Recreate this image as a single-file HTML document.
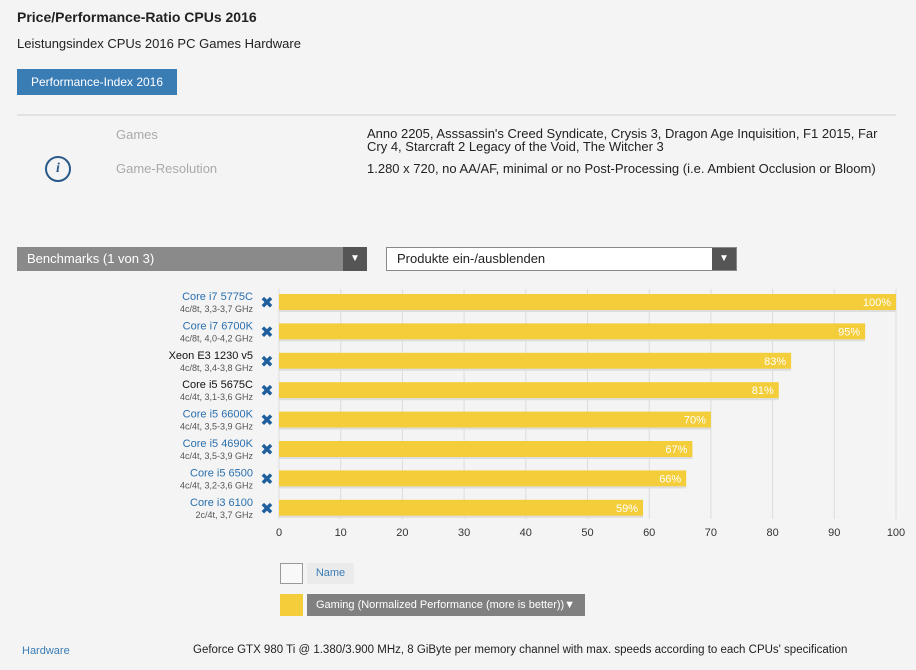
<!DOCTYPE html>
<html><head><meta charset="utf-8"><style>
body{margin:0;width:916px;height:670px;background:#f4f4f4;font-family:"Liberation Sans",sans-serif;position:relative;overflow:hidden;color:#222}
.a{position:absolute;white-space:nowrap}
</style></head><body>
<div class="a" style="left:17px;top:9px;font-size:14px;font-weight:bold">Price/Performance-Ratio CPUs 2016</div>
<div class="a" style="left:17px;top:36px;font-size:13px">Leistungsindex CPUs 2016 PC Games Hardware</div>
<div class="a" style="left:17px;top:69px;width:160px;height:26px;background:#3a7db5;color:#fff;font-size:12px;line-height:26px;text-align:center">Performance-Index 2016</div>
<div class="a" style="left:17px;top:114px;width:879px;height:2px;background:#e2e2e2"></div>
<div class="a" style="left:45px;top:156px;width:26px;height:26px;border:2px solid #2a5a8a;border-radius:50%;box-sizing:border-box;color:#2a5a8a;font:italic bold 14px 'Liberation Serif',serif;text-align:center;line-height:22px">i</div>
<div class="a" style="left:116px;top:127px;font-size:13px;color:#aaa">Games</div>
<div class="a" style="left:367px;top:127px;font-size:13px;white-space:normal;width:520px;line-height:13px">Anno 2205, Asssassin's Creed Syndicate, Crysis 3, Dragon Age Inquisition, F1 2015, Far Cry 4, Starcraft 2 Legacy of the Void, The Witcher 3</div>
<div class="a" style="left:116px;top:161px;font-size:13px;color:#aaa">Game-Resolution</div>
<div class="a" style="left:367px;top:161px;font-size:13px">1.280 x 720, no AA/AF, minimal or no Post-Processing (i.e. Ambient Occlusion or Bloom)</div>
<div class="a" style="left:17px;top:247px;width:350px;height:24px;background:#8a8a8a;color:#fff;font-size:13px;line-height:24px;box-sizing:border-box;padding-left:10px">Benchmarks (1 von 3)<span style="position:absolute;right:0;top:0;width:24px;height:24px;background:#555;text-align:center;font-size:10px">▼</span></div>
<div class="a" style="left:386px;top:247px;width:351px;height:24px;background:#fff;border:1px solid #888;color:#222;font-size:13px;line-height:22px;box-sizing:border-box;padding-left:10px">Produkte ein-/ausblenden<span style="position:absolute;right:0;top:0;width:24px;height:22px;background:#555;color:#fff;text-align:center;font-size:10px">▼</span></div>
<svg class="a" style="left:0;top:0" width="916" height="670" id="chart"></svg>
<div class="a" style="left:280px;top:563px;width:23px;height:21px;border:1px solid #999;box-sizing:border-box;background:#f8f8f8"></div>
<div class="a" style="left:307px;top:563px;width:47px;height:21px;background:#ebebeb;color:#3a7db5;font-size:11px;line-height:21px;text-align:center">Name</div>
<div class="a" style="left:280px;top:594px;width:23px;height:22px;background:#f3cd3a"></div>
<div class="a" style="left:307px;top:594px;width:278px;height:22px;background:#808080;color:#fff;font-size:11px;line-height:22px;box-sizing:border-box;padding-left:9px">Gaming (Normalized Performance (more is better))<span style="position:absolute;right:10px">▼</span></div>
<div class="a" style="left:22px;top:645px;font-size:11px;color:#3a7db5">Hardware</div>
<div class="a" style="left:193px;top:644px;font-size:11.5px">Geforce GTX 980 Ti @ 1.380/3.900 MHz, 8 GiByte per memory channel with max. speeds according to each CPUs' specification</div>
<script>
const names=["Core i7 5775C","Core i7 6700K","Xeon E3 1230 v5","Core i5 5675C","Core i5 6600K","Core i5 4690K","Core i5 6500","Core i3 6100"];
const specs=["4c/8t, 3,3-3,7 GHz","4c/8t, 4,0-4,2 GHz","4c/8t, 3,4-3,8 GHz","4c/4t, 3,1-3,6 GHz","4c/4t, 3,5-3,9 GHz","4c/4t, 3,5-3,9 GHz","4c/4t, 3,2-3,6 GHz","2c/4t, 3,7 GHz"];
const nameColors=["#2a6fae","#2a6fae","#111","#111","#2a6fae","#2a6fae","#2a6fae","#2a6fae"];
const values=[100,95,83,81,70,67,66,59];
const ticks=[0,10,20,30,40,50,60,70,80,90,100];
const NS="http://www.w3.org/2000/svg",svg=document.getElementById('chart');
const x=v=>279+v*6.17, y=i=>302+i*29.4;
function mk(t,a,txt){const e=document.createElementNS(NS,t);for(const k in a)e.setAttribute(k,a[k]);if(txt!=null)e.textContent=txt;svg.appendChild(e);return e;}
ticks.forEach(t=>{
const g=mk('line',{x1:x(t),x2:x(t),y1:289,y2:519,stroke:'#dcdcdc','stroke-width':1});


const l=mk('text',{x:x(t),y:536,'text-anchor':'middle','font-size':11,fill:'#333','font-family':'Liberation Sans'},t);


});
values.forEach((v,i)=>{
const cy=y(i);
const b=mk('rect',{x:x(0),y:cy-8,width:x(v)-x(0),height:16,fill:'#f3cd3a'});


const s=mk('rect',{x:x(0),y:cy+8,width:x(v)-x(0),height:2,fill:'#ddd'});


const vl=mk('text',{x:x(v)-5,y:cy+4,'text-anchor':'end','font-size':11,fill:'#fff','font-family':'Liberation Sans'},v+'%');


const n=mk('text',{x:253,y:cy-2,'text-anchor':'end','font-size':11,fill:nameColors[i],'font-family':'Liberation Sans'},names[i]);


const sp=mk('text',{x:253,y:cy+10,'text-anchor':'end','font-size':9,fill:'#555','font-family':'Liberation Sans'},specs[i]);


const r=mk('text',{x:267,y:cy+6,'text-anchor':'middle','font-size':16,'font-weight':'bold',fill:'#1f5f9e','font-family':'DejaVu Sans'},'✖');


});
</script>
</body></html>
